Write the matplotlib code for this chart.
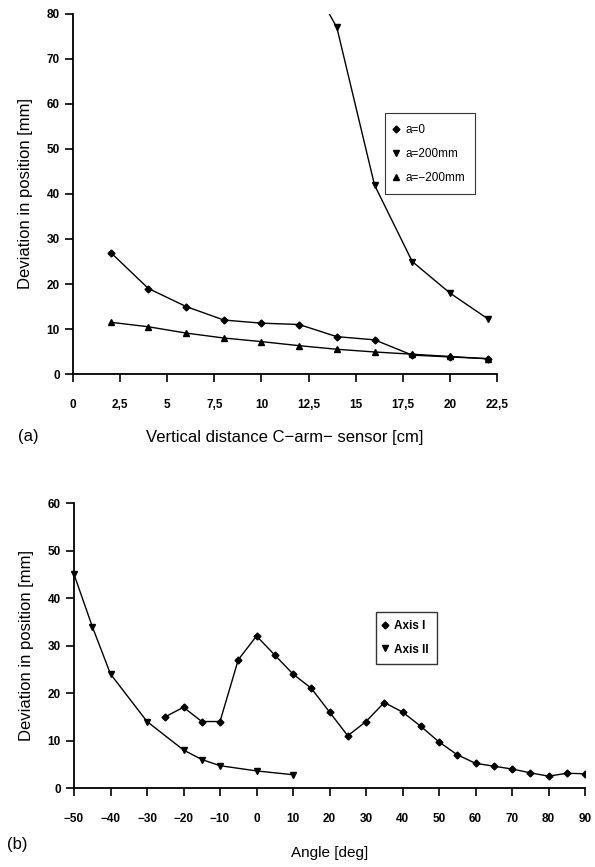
import matplotlib.pyplot as plt

plt.rcParams['font.family'] = ['Liberation Sans', 'DejaVu Sans']

# (a) deviation vs vertical distance
dist = [2, 4, 6, 8, 10, 12, 14, 16, 18, 20, 22]
dev_a0 = [27, 19, 15, 12, 11.3, 11, 8.3, 7.6, 4.2, 3.8, 3.4]
dist_p200 = [12, 14, 16, 18, 20, 22]
dev_p200 = [92, 77, 42, 25, 18, 12.3]
dev_m200 = [11.5, 10.5, 9.1, 8.0, 7.2, 6.3, 5.5, 4.9, 4.4, 3.9, 3.4]
xticks_a = [0, 2.5, 5, 7.5, 10, 12.5, 15, 17.5, 20, 22.5]
xlabels_a = ["0", "2,5", "5", "7,5", "10", "12,5", "15", "17,5", "20", "22,5"]

# (b) deviation vs angle
ang_1 = [-25, -20, -15, -10, -5, 0, 5, 10, 15, 20, 25, 30, 35, 40, 45,
         50, 55, 60, 65, 70, 75, 80, 85, 90]
dev_1 = [15, 17, 14, 14, 27, 32, 28, 24, 21, 16, 11, 14, 18, 16, 13,
         9.7, 7, 5.2, 4.6, 4, 3.2, 2.5, 3.1, 3]
ang_2 = [-50, -45, -40, -30, -20, -15, -10, 0, 10]
dev_2 = [45, 34, 24, 14, 8, 6, 4.7, 3.6, 2.8]


def style_axes(ax):
    ax.spines['top'].set_visible(False)
    ax.spines['right'].set_visible(False)
    for s in ['left', 'bottom']:
        ax.spines[s].set_linewidth(1.3)
    ax.tick_params(direction='out', length=6, width=1.2, labelsize=8.5)
    ax.tick_params(axis='x', pad=12)
    for lab in ax.get_xticklabels() + ax.get_yticklabels():
        lab.set_fontweight('bold')


fig = plt.figure(figsize=(5.95, 8.67), dpi=100)

ax1 = fig.add_axes([0.1227, 0.5686, 0.7126, 0.4153])
ax1.plot(dist, dev_a0, color='black', lw=1, marker='D', ms=3.5, label='a=0')
ax1.plot(dist_p200, dev_p200, color='black', lw=1, marker='v', ms=4.5,
         label='a=200mm')
ax1.plot(dist, dev_m200, color='black', lw=1, marker='^', ms=4.5,
         label='a=\u2212200mm')
ax1.set_xlim(0, 22.5)
ax1.set_ylim(0, 80)
ax1.set_xticks(xticks_a)
ax1.set_xticklabels(xlabels_a)
ax1.set_yticks(range(0, 81, 10))
style_axes(ax1)
ax1.set_ylabel('Deviation in position [mm]', fontsize=12, labelpad=10)
ax1.set_xlabel('Vertical distance C\u2212arm\u2212 sensor [cm]', fontsize=12,
               labelpad=14)
leg1 = ax1.legend(handlelength=0, handletextpad=0.8, fontsize=8.5,
                  loc='upper left', bbox_to_anchor=(0.722, 0.74),
                  frameon=True, fancybox=False, borderpad=0.9,
                  labelspacing=1.0)
leg1.get_frame().set_edgecolor('black')
leg1.get_frame().set_linewidth(0.8)
for h in leg1.legend_handles:
    h.set_linestyle('None')
fig.text(0.03, 1 - 437 / 867, '(a)', fontsize=12, va='center')

ax2 = fig.add_axes([0.1244, 0.0911, 0.8588, 0.3287])
ax2.plot(ang_1, dev_1, color='black', lw=1, marker='D', ms=3.5,
         label='Axis I')
ax2.plot(ang_2, dev_2, color='black', lw=1, marker='v', ms=4.5,
         label='Axis II', clip_on=False)
ax2.set_xlim(-50, 90)
ax2.set_ylim(0, 60)
ax2.set_xticks(range(-50, 91, 10))
ax2.set_xticklabels([str(t).replace('-', '\u2212') for t in range(-50, 91, 10)])
ax2.set_yticks(range(0, 61, 10))
style_axes(ax2)
ax2.set_ylabel('Deviation in position [mm]', fontsize=12, labelpad=10)
ax2.set_xlabel('Angle [deg]', fontsize=11, labelpad=15)
leg2 = ax2.legend(handlelength=0, handletextpad=0.8,
                  loc='upper left', bbox_to_anchor=(0.58, 0.64),
                  frameon=True, fancybox=False, borderpad=0.7,
                  labelspacing=1.0, prop={'weight': 'bold', 'size': 8.5})
leg2.get_frame().set_edgecolor('black')
leg2.get_frame().set_linewidth(1.0)
for h in leg2.legend_handles:
    h.set_linestyle('None')
fig.text(0.012, 1 - 845 / 867, '(b)', fontsize=12, va='center')

fig.savefig('out.png', dpi=100)
